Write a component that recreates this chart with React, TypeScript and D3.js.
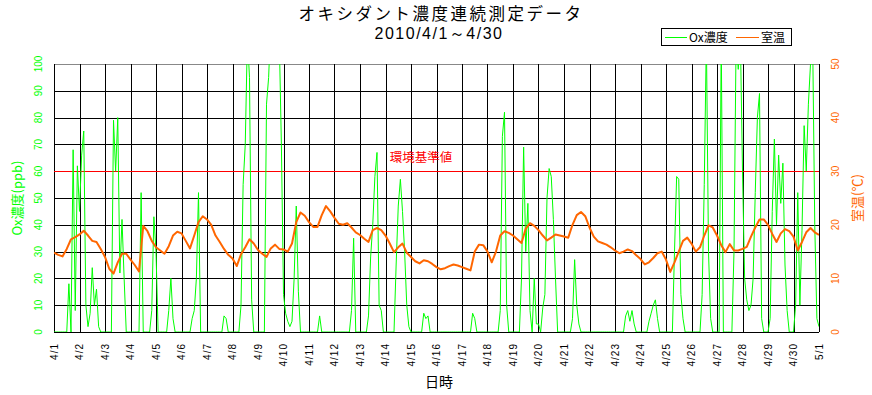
import React from 'react';
import * as d3 from 'd3';

const width = 872;
const height = 395;
const margin = { top: 64, right: 53, bottom: 63, left: 54 };
const green = '#00ff00';
const orange = '#ff6600';
const red = '#ff0000';
const jp = "'Noto Sans CJK JP', sans-serif";
const num = "'Liberation Sans', Arial, sans-serif";

// x axis: one tick per day
const dayLabels = [
  '4/1', '4/2', '4/3', '4/4', '4/5', '4/6', '4/7', '4/8', '4/9', '4/10',
  '4/11', '4/12', '4/13', '4/14', '4/15', '4/16', '4/17', '4/18', '4/19', '4/20',
  '4/21', '4/22', '4/23', '4/24', '4/25', '4/26', '4/27', '4/28', '4/29', '4/30', '5/1',
];
const oxTicks = [0, 10, 20, 30, 40, 50, 60, 70, 80, 90, 100];
const tempTicks = [0, 10, 20, 30, 40, 50];
const envStandard = 60; // 環境基準値 (ppb)

// Ox concentration (ppb), every 2 hours from 4/1 0:00
const oxPpb = [
  0, 0, 0, 0, 0, 0, 0, 18, 0, 68, 8, 62, // 4/1
  45, 66, 75, 10, 2, 7, 24, 10, 16, 2, 0, 0, // 4/2
  0, 0, 0, 0, 79, 60, 80, 22, 42, 20, 0, 0, // 4/3
  0, 0, 0, 0, 0, 52, 0, 0, 0, 0, 8, 43, // 4/4
  30, 0, 0, 0, 0, 0, 8, 20, 5, 0, 0, 0, // 4/5
  0, 0, 0, 0, 0, 5, 8, 20, 52, 0, 0, 0, // 4/6
  0, 0, 0, 0, 0, 0, 0, 0, 6, 5, 0, 0, // 4/7
  0, 0, 0, 0, 10, 55, 70, 110, 95, 12, 0, 0, // 4/8
  0, 0, 0, 0, 85, 95, 115, 120, 125, 120, 110, 70, // 4/9
  14, 7, 4, 2, 4, 20, 47, 15, 0, 0, 0, 0, // 4/10
  0, 0, 0, 0, 0, 6, 0, 0, 0, 0, 0, 0, // 4/11
  0, 0, 0, 0, 0, 0, 0, 0, 8, 35, 0, 0, // 4/12
  0, 0, 0, 0, 6, 28, 40, 58, 67, 10, 8, 0, // 4/13
  0, 0, 0, 0, 0, 25, 47, 57, 45, 30, 10, 2, // 4/14
  0, 0, 0, 0, 0, 0, 7, 5, 6, 0, 0, 0, // 4/15
  0, 0, 0, 0, 0, 0, 0, 0, 0, 0, 0, 0, // 4/16
  0, 0, 0, 0, 0, 7, 5, 0, 0, 0, 0, 0, // 4/17
  0, 0, 0, 0, 0, 0, 8, 73, 82, 10, 0, 0, // 4/18
  0, 0, 0, 0, 20, 69, 30, 48, 8, 0, 20, 3, // 4/19
  3, 0, 9, 14, 50, 61, 58, 42, 20, 0, 0, 0, // 4/20
  0, 0, 0, 0, 5, 27, 10, 3, 0, 0, 0, 0, // 4/21
  0, 0, 0, 0, 0, 0, 0, 0, 0, 0, 0, 0, // 4/22
  0, 0, 0, 0, 0, 6, 8, 4, 8, 3, 0, 0, // 4/23
  0, 0, 0, 0, 4, 7, 10, 12, 5, 0, 0, 0, // 4/24
  0, 0, 0, 0, 30, 58, 57, 14, 5, 0, 0, 0, // 4/25
  0, 0, 0, 0, 0, 14, 55, 110, 30, 5, 0, 0, // 4/26
  0, 0, 110, 0, 0, 0, 0, 0, 30, 110, 98, 110, // 4/27
  60, 20, 12, 8, 10, 20, 52, 80, 89, 5, 0, 0, // 4/28
  0, 5, 45, 72, 40, 66, 48, 63, 25, 8, 0, 0, // 4/29
  0, 10, 52, 10, 38, 77, 60, 85, 100, 110, 40, 5, // 4/30
  2, // 5/1
];

// room temperature (℃), every 4 hours from 4/1 0:00
const roomTemp = [
  14.8, 14.4, 14.1, 15.5, 17.3, 17.7, // 4/1
  18.2, 18.9, 18.0, 17.0, 16.8, 15.5, // 4/2
  14.0, 11.8, 10.9, 13.0, 14.6, 14.6, // 4/3
  13.5, 12.5, 11.3, 19.8, 18.8, 17.0, // 4/4
  15.8, 15.2, 14.6, 16.0, 18.0, 18.7, // 4/5
  18.4, 17.0, 15.6, 18.0, 20.5, 21.6, // 4/6
  21.0, 20.0, 18.0, 16.8, 15.5, 14.4, // 4/7
  13.7, 12.3, 14.5, 15.8, 17.3, 16.5, // 4/8
  15.3, 14.6, 14.0, 15.6, 16.3, 15.5, // 4/9
  15.4, 15.0, 16.5, 20.5, 22.3, 21.7, // 4/10
  20.5, 19.6, 19.6, 21.8, 23.5, 22.5, // 4/11
  21.3, 20.2, 20.0, 20.3, 19.5, 18.6, // 4/12
  18.1, 17.4, 16.8, 19.0, 19.4, 19.0, // 4/13
  18.0, 16.5, 14.9, 15.8, 16.5, 14.8, // 4/14
  14.0, 13.2, 12.8, 13.4, 13.2, 12.7, // 4/15
  12.1, 11.7, 11.9, 12.3, 12.6, 12.4, // 4/16
  12.1, 11.8, 11.5, 15.0, 16.3, 16.2, // 4/17
  15.0, 13.0, 15.0, 18.0, 18.8, 18.5, // 4/18
  18.0, 17.3, 16.6, 19.3, 20.3, 19.8, // 4/19
  19.0, 18.0, 17.1, 17.6, 18.2, 18.0, // 4/20
  17.8, 17.6, 20.0, 21.8, 22.4, 21.6, // 4/21
  19.5, 17.8, 16.9, 16.6, 16.3, 15.8, // 4/22
  15.2, 14.7, 15.0, 15.4, 15.1, 14.3, // 4/23
  13.6, 12.6, 13.0, 13.8, 14.7, 15.0, // 4/24
  13.5, 11.2, 13.0, 15.0, 17.0, 17.6, // 4/25
  16.5, 15.0, 15.8, 18.0, 19.9, 19.5, // 4/26
  18.0, 16.2, 14.9, 16.4, 15.2, 15.2, // 4/27
  15.5, 15.9, 17.8, 19.5, 21.0, 21.0, // 4/28
  20.0, 18.3, 16.8, 18.4, 19.2, 18.8, // 4/29
  17.8, 15.2, 16.8, 18.6, 19.4, 18.6, // 4/30
  18.1, // 5/1
];

const px = (v: number) => Math.round(v) + 0.5;

export default function App() {
  const x = d3.scaleLinear()
    .domain([0, dayLabels.length - 1])
    .range([margin.left, width - margin.right]);
  const yOx = d3.scaleLinear().domain([0, 100]).range([height - margin.bottom, margin.top]);
  const yT = d3.scaleLinear().domain([0, 50]).range([height - margin.bottom, margin.top]);

  const oxLine = d3.line<number>().x((d, i) => x(i * 2 / 24)).y(d => yOx(d));
  const tLine = d3.line<number>().x((d, i) => x(i * 4 / 24)).y(d => yT(d));

  const left = margin.left, right = width - margin.right;
  const top = margin.top, bottom = height - margin.bottom;
  const midY = (top + bottom) / 2;

  return (
    <svg width={width} height={height} style={{ position: 'absolute', left: 0, top: 0, background: '#fff' }}>
      <defs>
        <clipPath id="plot">
          <rect x={left} y={top} width={right - left} height={bottom - top} />
        </clipPath>
      </defs>

      {/* title */}
      <text x={441} y={19.5} textAnchor="middle" fontFamily={jp} fontSize={16.5} letterSpacing={2.5} fill="#000">
        オキシダント濃度連続測定データ
      </text>
      <text x={439} y={38.8} textAnchor="middle" fontFamily={num} fontSize={16} letterSpacing={1.5} fill="#000">
        2010/4/1～4/30
      </text>

      {/* legend */}
      <rect x={661.5} y={28.5} width={130} height={17} fill="#fff" stroke="#000" />
      <line x1={665} x2={687} y1={37.5} y2={37.5} stroke={green} />
      <text x={689} y={42} fontFamily={jp} fontSize={12} fill="#000">Ox濃度</text>
      <line x1={736} x2={759} y1={37.5} y2={37.5} stroke={orange} />
      <text x={761} y={42} fontFamily={jp} fontSize={12} fill="#000">室温</text>

      {/* grid */}
      {oxTicks.map(t => (
        <line key={'h' + t} x1={left} x2={right} y1={px(yOx(t))} y2={px(yOx(t))}
          stroke={t === 100 ? '#888' : '#000'} />
      ))}
      {dayLabels.map((d, i) => (
        <line key={'v' + i} x1={px(x(i))} x2={px(x(i))} y1={top} y2={bottom} stroke="#000" />
      ))}

      {/* environmental standard */}
      <line x1={left} x2={right} y1={px(yOx(envStandard))} y2={px(yOx(envStandard))} stroke={red} />
      <text x={421} y={162} textAnchor="middle" fontFamily={jp} fontSize={12.5} fill={red}>環境基準値</text>

      {/* series */}
      <g clipPath="url(#plot)">
        <path d={oxLine(oxPpb) || ''} fill="none" stroke={green} strokeWidth={1} />
        <path d={tLine(roomTemp) || ''} fill="none" stroke={orange} strokeWidth={2} strokeLinejoin="round" />
      </g>

      {/* left axis */}
      {oxTicks.map(t => (
        <text key={'l' + t} transform={`translate(38,${yOx(t)}) rotate(-90)`} textAnchor="middle"
          dominantBaseline="central" fontFamily={num} fontSize={10} fill={green}>{t}</text>
      ))}
      <text transform={`translate(16,${midY}) rotate(-90)`} textAnchor="middle" dominantBaseline="central"
        fontFamily={jp} fontSize={13} fill={green}>Ox濃度(ppb)</text>

      {/* right axis */}
      {tempTicks.map(t => (
        <text key={'r' + t} transform={`translate(835,${yT(t)}) rotate(-90)`} textAnchor="middle"
          dominantBaseline="central" fontFamily={num} fontSize={10} fill={orange}>{t}</text>
      ))}
      <text transform={`translate(856,${midY}) rotate(-90)`} textAnchor="middle" dominantBaseline="central"
        fontFamily={jp} fontSize={13} fill={orange}>室温(℃)</text>

      {/* x axis */}
      {dayLabels.map((d, i) => (
        <text key={'x' + i} transform={`translate(${x(i)},343) rotate(-90)`} textAnchor="end"
          dominantBaseline="central" fontFamily={num} fontSize={10} letterSpacing={1} fill="#000">{d}</text>
      ))}
      <text x={439} y={387} textAnchor="middle" fontFamily={jp} fontSize={14} fill="#000">日時</text>
    </svg>
  );
}
